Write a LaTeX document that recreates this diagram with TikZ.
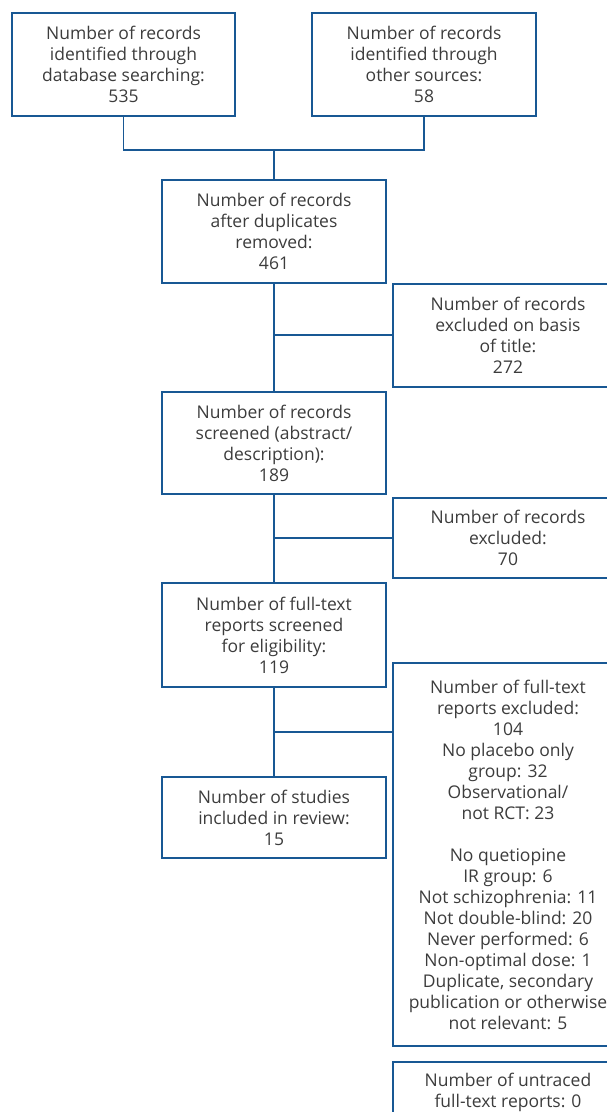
\documentclass[tikz,border=0pt]{standalone}
\usepackage{fontspec}
\setmainfont{Open Sans}
\definecolor{boxblue}{RGB}{24,88,148}
\definecolor{txtgray}{RGB}{60,60,60}
\begin{document}
\begin{tikzpicture}[x=1pt,y=-1pt,
  flowbox/.style={draw=boxblue,line width=1.8pt,rectangle,align=center,
    text=txtgray,font=\fontsize{17.5}{21}\selectfont,inner sep=0pt,outer sep=0pt},
  link/.style={draw=boxblue,line width=1.8pt}]
\useasboundingbox (0,0) rectangle (607,1112);
\node[flowbox,minimum width=223,minimum height=103.5] (db) at (123.5,64.5)
  {Number of records\\identified through\\database searching:\\535};
\node[flowbox,minimum width=224,minimum height=103.5] (oth) at (424,64.5)
  {Number of records\\identified through\\other sources:\\58};
\node[flowbox,minimum width=224,minimum height=103] (dup) at (274,231.5)
  {Number of records\\after duplicates\\removed:\\461};
\node[flowbox,minimum width=230,minimum height=103] (title) at (508,335.5)
  {Number of records\\excluded on basis\\of title:\\272};
\node[flowbox,minimum width=224,minimum height=102] (scr) at (274,443)
  {Number of records\\screened (abstract/\\description):\\189};
\node[flowbox,minimum width=230,minimum height=80] (exc) at (508,538)
  {Number of records\\excluded:\\70};
\node[flowbox,minimum width=224,minimum height=104] (full) at (274,635)
  {Number of full-text\\reports screened\\for eligibility:\\119};
\node[flowbox,minimum width=230,minimum height=383] (ftx) at (508,854.5)
  {Number of full-text\\reports excluded:\\104\\No placebo only\\group: 32\\Observational/\\not RCT: 23\\[21pt]No quetiopine\\IR group: 6\\Not schizophrenia: 11\\Not double-blind: 20\\Never performed: 6\\Non-optimal dose: 1\\Duplicate, secondary\\publication or otherwise\\not relevant: 5};
\node[flowbox,minimum width=224,minimum height=81] (inc) at (274,817.5)
  {Number of studies\\included in review:\\15};
\node[flowbox,minimum width=230,minimum height=60] (untr) at (508,1092)
  {Number of untraced\\full-text reports: 0};
\coordinate (m) at (274,150);
\coordinate (j1) at (274,335);
\coordinate (j2) at (274,538);
\coordinate (j3) at (274,732);
\draw[link] (db.south) |- (m) -| (oth.south);
\draw[link] (m) -- (dup.north);
\draw[link] (dup.south) -- (scr.north);
\draw[link] (j1) -- (j1 -| title.west);
\draw[link] (scr.south) -- (full.north);
\draw[link] (j2) -- (j2 -| exc.west);
\draw[link] (full.south) -- (inc.north);
\draw[link] (j3) -- (j3 -| ftx.west);
\end{tikzpicture}
\end{document}
